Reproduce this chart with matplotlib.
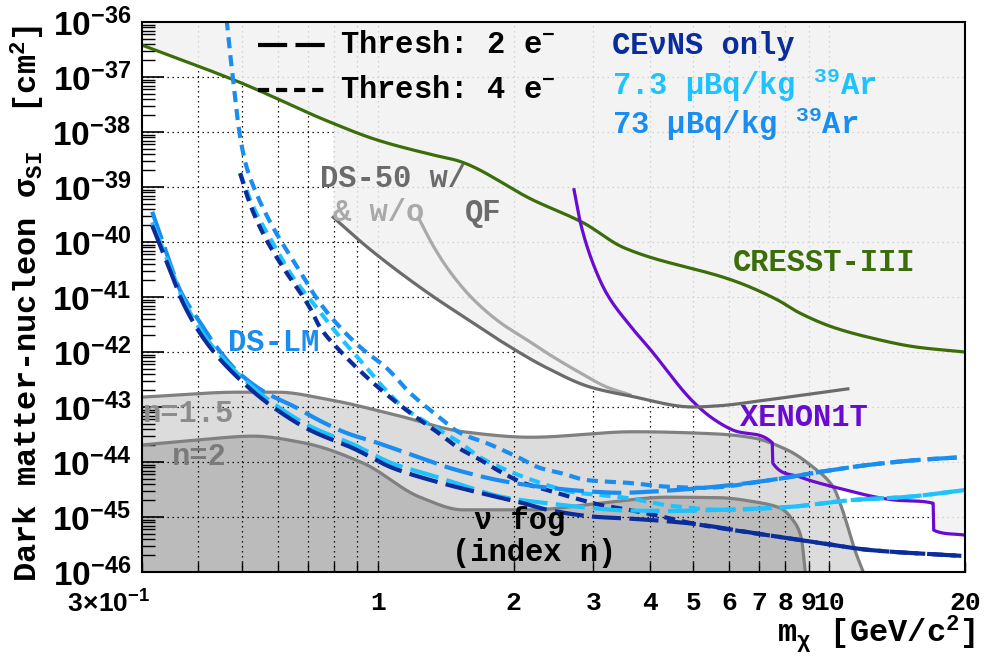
import numpy as np
import matplotlib
matplotlib.use("Agg")
import matplotlib.pyplot as plt
from matplotlib.ticker import FixedLocator, FixedFormatter, LogLocator, NullFormatter

plt.rcParams["font.family"] = ["Liberation Mono", "DejaVu Sans"]
plt.rcParams["font.weight"] = "bold"
plt.rcParams["mathtext.fontset"] = "custom"
plt.rcParams["mathtext.rm"] = "Liberation Mono:bold"
plt.rcParams["mathtext.it"] = "Liberation Mono:bold"
plt.rcParams["mathtext.bf"] = "Liberation Mono:bold"
plt.rcParams["mathtext.sf"] = "Liberation Sans"
plt.rcParams["lines.scale_dashes"] = False

# ---------------- data: WIMP mass [GeV/c^2] and log10(sigma_SI / cm^2) ----------------
cresst_mass = [0.30, 0.495, 0.783, 1.0, 1.33, 1.50, 2.21, 2.85, 3.5, 6.27, 7.67, 8.6, 10.2, 12.2, 15.6, 20.0]
cresst_logsig = [-36.42, -37.10, -37.82, -38.15, -38.42, -38.52, -39.24, -39.65, -40.10,
                 -40.73, -41.05, -41.29, -41.55, -41.73, -41.91, -42.00]

xenon_mass = [2.72, 2.81, 3.0, 3.22, 3.62, 4.02, 4.99, 5.5, 6.12, 7.48, 7.50, 8.6, 10.2, 13.9,
              17.0, 17.05, 20.0]
xenon_logsig = [-39.05, -39.65, -40.40, -40.95, -41.52, -41.96, -42.90, -43.20, -43.42, -43.65,
                -44.02, -44.27, -44.45, -44.69, -44.75, -45.24, -45.33]

ds50_qf_mass = [0.796, 0.946, 1.12, 1.33, 1.576, 1.87, 2.37, 2.96, 3.62, 4.99, 5.65, 7.29, 11.0]
ds50_qf_logsig = [-39.55, -40.09, -40.56, -41.00, -41.40, -41.80, -42.29, -42.64, -42.80,
                  -43.00, -42.98, -42.87, -42.67]

ds50_noqf_mass = [1.23, 1.33, 1.45, 1.63, 1.87, 2.14, 2.37, 2.81, 3.22, 3.62]
ds50_noqf_logsig = [-39.56, -40.09, -40.56, -41.05, -41.47, -41.78, -42.02, -42.38, -42.64, -42.78]

fog15_mass = [0.30, 0.495, 0.598, 0.783, 1.10, 1.545, 2.18, 3.68, 5.65, 6.77, 8.07, 9.2, 10.2,
              10.7, 11.1, 11.4, 11.9]
fog15_logsig = [-42.82, -42.73, -42.73, -42.87, -43.15, -43.45, -43.55, -43.45, -43.49, -43.56,
                -43.78, -44.09, -44.45, -44.87, -45.29, -45.60, -46.00]

fog2_mass = [0.30, 0.397, 0.529, 0.683, 0.927, 1.24, 1.545, 2.18, 3.11, 4.38, 5.74, 6.9, 7.8,
             8.3, 8.7, 8.75, 8.85]
fog2_logsig = [-43.69, -43.60, -43.53, -43.65, -44.02, -44.64, -44.87, -44.87, -44.75, -44.64,
               -44.65, -44.73, -44.84, -45.05, -45.42, -45.60, -46.00]

# DarkSide-LowMass projections, 2 e- threshold
dslm2_cevns_mass = [0.316, 0.346, 0.370, 0.418, 0.487, 0.585, 0.707, 0.881, 1.08, 1.35, 1.68,
                    2.10, 2.38, 3.07, 3.62, 4.84, 6.77, 9.54, 12.3, 20.0]
dslm2_cevns_logsig = [-39.70, -40.51, -41.11, -41.84, -42.45, -43.00, -43.42, -43.75, -44.11,
                      -44.36, -44.56, -44.75, -44.87, -45.00, -45.03, -45.11, -45.29, -45.47,
                      -45.60, -45.71]

dslm2_ar7_mass = [0.316, 0.346, 0.370, 0.418, 0.487, 0.585, 0.707, 0.881, 1.08, 1.35, 1.576,
                  1.895, 2.37, 3.0, 3.5, 4.5, 5.74, 8.07, 11.3, 14.6, 20.0]
dslm2_ar7_logsig = [-39.64, -40.44, -41.04, -41.77, -42.38, -42.93, -43.35, -43.68, -44.03,
                    -44.27, -44.45, -44.64, -44.75, -44.84, -44.88, -44.89, -44.87, -44.82,
                    -44.69, -44.64, -44.51]

dslm2_ar73_mass = [0.316, 0.34, 0.364, 0.404, 0.439, 0.495, 0.567, 0.648, 0.744, 0.85, 0.996,
                   1.16, 1.50, 1.93, 2.4, 3.0, 3.44, 4.2, 5.26, 7.4, 9.54, 12.3, 15.9, 20.0]
dslm2_ar73_logsig = [-39.45, -40.20, -40.87, -41.47, -41.91, -42.40, -42.75, -42.98, -43.25,
                     -43.47, -43.65, -43.84, -44.15, -44.36, -44.47, -44.54, -44.56, -44.53,
                     -44.47, -44.33, -44.18, -44.05, -43.96, -43.91]

# DarkSide-LowMass projections, 4 e- threshold
dslm4_cevns_mass = [0.495, 0.52, 0.556, 0.607, 0.707, 0.744, 0.824, 0.96, 1.048, 1.18, 1.35,
                    1.52, 1.66, 1.89, 2.1, 2.37, 2.71, 3.11, 3.6, 4.3, 5.0, 6.77, 9.54, 12.3, 20.0]
dslm4_cevns_logsig = [-38.75, -39.30, -39.84, -40.38, -41.20, -41.55, -41.98, -42.51, -42.78,
                      -43.11, -43.45, -43.76, -43.93, -44.20, -44.38, -44.51, -44.65, -44.78,
                      -44.87, -45.00, -45.12, -45.29, -45.47, -45.60, -45.71]

dslm4_ar7_mass = [0.495, 0.529, 0.585, 0.648, 0.718, 0.824, 0.913, 1.027, 1.137, 1.33, 1.52,
                  1.68, 1.93, 2.1, 2.37, 2.71, 3.11, 3.6, 4.5, 5.74, 8.07, 11.3, 14.6, 20.0]
dslm4_ar7_logsig = [-38.75, -39.36, -40.02, -40.64, -41.11, -41.73, -42.15, -42.64, -43.00,
                    -43.36, -43.65, -43.91, -44.15, -44.27, -44.42, -44.55, -44.60, -44.66,
                    -44.80, -44.87, -44.82, -44.69, -44.64, -44.51]

dslm4_ar73_mass = [0.462, 0.470, 0.480, 0.492, 0.510, 0.540, 0.585, 0.662, 0.744, 0.824, 0.913,
                   1.048, 1.18, 1.35, 1.52, 1.77, 2.04, 2.29, 2.54, 2.91, 3.6, 4.4, 5.26, 7.4,
                   9.54, 12.3, 15.9, 20.0]
dslm4_ar73_logsig = [-35.95, -36.55, -37.20, -37.95, -38.60, -39.15, -39.73, -40.45, -41.11,
                     -41.55, -41.91, -42.30, -42.75, -43.15, -43.47, -43.68, -43.91, -44.11,
                     -44.20, -44.33, -44.38, -44.45, -44.47, -44.33, -44.18, -44.05, -43.96,
                     -43.91]

x_tick_values = [0.3, 1, 2, 3, 4, 5, 6, 7, 8, 9, 10, 20]
x_tick_labels = ["", "1", "2", "3", "4", "5", "6", "7", "8", "9", "10", "20"]
x_first_label = r"$\mathsf{3\!\times\!10^{-1}}$"
x_minor_values = [0.4, 0.5, 0.6, 0.7, 0.8, 0.9]
y_decades = list(range(-46, -35))

# ---------------- style ----------------
C_CRESST = "#3b6e0a"
C_XENON = "#6a0cd0"
C_DS50_DARK = "#6b6b6b"
C_DS50_LIGHT = "#a9a9a9"
C_CEVNS = "#0b2d9c"
C_AR7 = "#1ec2ff"
C_AR73 = "#1a8df0"
C_FOG_LINE = "#808080"
C_FOG15 = "#dcdcdc"
C_FOG2 = "#bbbbbb"
C_EXCL = "#f2f2f2"

LONG = (0, (21, 6))
SHORT = (0, (8, 5))


def smooth_curve(mass, logsig, n=400):
    """Shape-preserving cubic (PCHIP) through the points, in log-log space."""
    x = np.log10(np.asarray(mass, float))
    y = np.asarray(logsig, float)
    h = np.diff(x)
    delta = np.diff(y) / h
    d = np.zeros_like(y)
    for k in range(1, len(y) - 1):
        if delta[k - 1] * delta[k] > 0:
            w1 = 2 * h[k] + h[k - 1]
            w2 = h[k] + 2 * h[k - 1]
            d[k] = (w1 + w2) / (w1 / delta[k - 1] + w2 / delta[k])
    d[0] = delta[0]
    d[-1] = delta[-1]
    xs = np.union1d(np.linspace(x[0], x[-1], n), x)
    idx = np.clip(np.searchsorted(x, xs, side="right") - 1, 0, len(h) - 1)
    t = (xs - x[idx]) / h[idx]
    h00 = 2 * t**3 - 3 * t**2 + 1
    h10 = t**3 - 2 * t**2 + t
    h01 = -2 * t**3 + 3 * t**2
    h11 = t**3 - t**2
    ys = h00 * y[idx] + h10 * h[idx] * d[idx] + h01 * y[idx + 1] + h11 * h[idx] * d[idx + 1]
    return xs, ys


W, H = 986, 658
fig = plt.figure(figsize=(W / 100, H / 100), dpi=100)
ax = fig.add_axes([142 / W, 1 - 572 / H, (965 - 142) / W, (572 - 22) / H])
ax.set_xscale("log")
ax.set_yscale("log")
ax.set_xlim(0.3, 20)
ax.set_ylim(1e-46, 1e-36)


def draw(mass, logsig, **kw):
    lx, ly = smooth_curve(mass, logsig)
    ax.plot(10**lx, 10**ly, **kw)
    return lx, ly


# grid
for xv in x_minor_values + [1, 2, 3, 4, 5, 6, 7, 8, 9, 10]:
    ax.axvline(xv, color="k", lw=0.9, ls=(0, (1, 2.6)), zorder=0.5)
for dec in y_decades[1:-1]:
    ax.axhline(10.0 ** dec, color="k", lw=0.9, ls=(0, (1, 2.6)), zorder=0.5)

# neutrino fog
f15x, f15y = smooth_curve(fog15_mass, fog15_logsig)
f2x, f2y = smooth_curve(fog2_mass, fog2_logsig)
ax.fill_between(10**f15x, 1e-46, 10**f15y, color=C_FOG15, lw=0, zorder=0.3)
ax.fill_between(10**f2x, 1e-46, 10**f2y, color=C_FOG2, lw=0, zorder=0.35)
ax.plot(10**f15x, 10**f15y, color=C_FOG_LINE, lw=2.3, zorder=2)
ax.plot(10**f2x, 10**f2y, color=C_FOG_LINE, lw=2.3, zorder=2)

# existing limits
cx, cy = draw(cresst_mass, cresst_logsig, color=C_CRESST, lw=2.3, zorder=3)
xex, xey = draw(xenon_mass, xenon_logsig, color=C_XENON, lw=2.3, zorder=3)
draw(ds50_noqf_mass, ds50_noqf_logsig, color=C_DS50_LIGHT, lw=2.3, zorder=3)
dx, dy = draw(ds50_qf_mass, ds50_qf_logsig, color=C_DS50_DARK, lw=2.3, zorder=3)

# excluded region above the existing limits (kept off the fog band)
lx = np.linspace(np.log10(0.3), np.log10(20), 2000)
env = np.interp(lx, cx, cy)
for px_, py_ in ((dx, dy), (xex, xey)):
    part = np.interp(lx, px_, py_)
    inside = (lx >= px_[0]) & (lx <= px_[-1])
    env = np.where(inside, np.minimum(env, part), env)
env = np.maximum(env, np.interp(lx, f15x, f15y, right=-46.0))
ax.fill_between(10**lx, 10**env, 1e-36, color=C_EXCL, alpha=0.85, lw=0, zorder=0.6)

# DS-LM projections
for m, s, c in ((dslm4_ar73_mass, dslm4_ar73_logsig, C_AR73),
                (dslm4_ar7_mass, dslm4_ar7_logsig, C_AR7),
                (dslm4_cevns_mass, dslm4_cevns_logsig, C_CEVNS)):
    draw(m, s, color=c, lw=3.0, ls=SHORT, zorder=4)
for m, s, c in ((dslm2_ar73_mass, dslm2_ar73_logsig, C_AR73),
                (dslm2_ar7_mass, dslm2_ar7_logsig, C_AR7),
                (dslm2_cevns_mass, dslm2_cevns_logsig, C_CEVNS)):
    draw(m, s, color=c, lw=3.0, ls=LONG, zorder=4.5)

# axes, ticks
for sp in ax.spines.values():
    sp.set_linewidth(1.5)
    sp.set_zorder(6)
ax.xaxis.set_major_locator(FixedLocator(x_tick_values))
ax.xaxis.set_major_formatter(FixedFormatter(x_tick_labels))
ax.xaxis.set_minor_locator(FixedLocator(x_minor_values))
ax.xaxis.set_minor_formatter(NullFormatter())
ax.tick_params(axis="x", which="both", direction="in", length=7, width=1.0, top=False,
               pad=14, labelsize=19)
ax.yaxis.set_major_locator(FixedLocator([10.0 ** dd for dd in y_decades]))
ax.yaxis.set_major_formatter(FixedFormatter([r"$\mathsf{10^{%d}}$" % dd for dd in y_decades]))
ax.yaxis.set_minor_locator(LogLocator(base=10, subs=np.arange(2, 10), numticks=30))
ax.yaxis.set_minor_formatter(NullFormatter())
ax.tick_params(axis="y", which="major", direction="in", length=16, width=1.2, right=False,
               pad=8, labelsize=24)
ax.tick_params(axis="y", which="minor", direction="in", length=9, width=1.0, right=False)


def ftext(px, py, s, **kw):
    kw.setdefault("ha", "left")
    kw.setdefault("va", "center")
    kw.setdefault("fontsize", 22)
    kw.setdefault("fontweight", "bold")
    return fig.text(px / W, 1 - py / H, s, zorder=10, **kw)


ftext(150, 604, x_first_label, ha="right", fontsize=19)

# axis titles
ftext(28, 303, r"Dark matter-nucleon σ$_{\mathrm{SI}}$  [cm$^{2}$]", rotation=90, ha="center",
      fontsize=23)
ftext(975, 634, r"m$_{\chi}$ [GeV/c$^{2}$]", ha="right", fontsize=23)

# threshold key
for yy, ls in ((45, LONG), (90, SHORT)):
    ax.plot([258 / W, 326 / W], [1 - yy / H, 1 - yy / H], transform=fig.transFigure,
            color="k", lw=3.0, ls=ls, clip_on=False, zorder=10)
ftext(340, 45, r"Thresh: 2 e$^{-}$")
ftext(340, 90, r"Thresh: 4 e$^{-}$")

# colour key
ftext(612, 46, "CEνNS only", color=C_CEVNS)
ftext(612, 85, r"7.3 µBq/kg $^{39}$Ar", color=C_AR7)
ftext(612, 124, r"73 µBq/kg $^{39}$Ar", color=C_AR73)

# curve labels
ftext(733, 263, "CRESST-III", color=C_CRESST)
ftext(740, 418, "XENON1T", color=C_XENON)
ftext(228, 343, "DS-LM", color=C_AR73)
ftext(320, 179, "DS-50 w/", color=C_DS50_DARK)
ftext(333, 213, "& w/o", color=C_DS50_LIGHT)
ftext(465, 213, "QF", color=C_DS50_DARK)
ftext(143, 414, "n=1.5", color="#8c8c8c")
ftext(172, 457, "n=2", color="#7a7a7a")
ftext(474, 521, "ν fog", color="k")
ftext(452, 553, "(index n)", color="k")

fig.savefig("out.png", dpi=100, facecolor="white")
